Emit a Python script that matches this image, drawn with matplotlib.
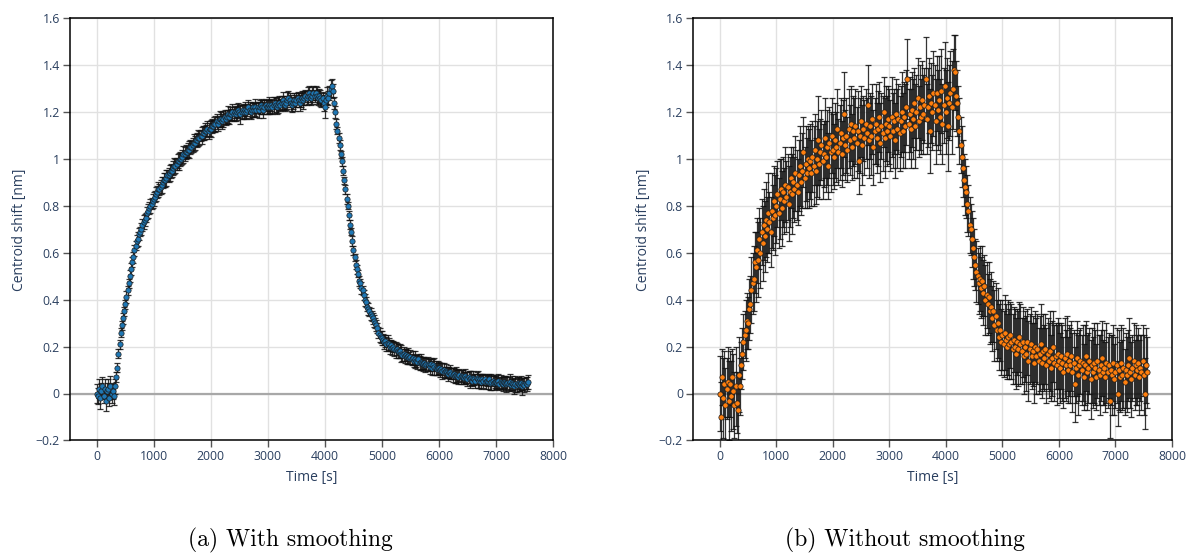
import numpy as np
import matplotlib
matplotlib.use("Agg")
import matplotlib.pyplot as plt
from matplotlib.ticker import FuncFormatter

# ---------------- data ----------------
time_s = np.arange(0, 7561, 20)

shift_smoothed = [
    0.00, -0.01, 0.02, -0.02, 0.01, 0.03, -0.01, 0.02, -0.03, 0.01,
    0.02, -0.02, 0.03, 0.00, 0.01, -0.01, 0.03, 0.07, 0.11, 0.17,
    0.21, 0.26, 0.29, 0.32, 0.35, 0.38, 0.41, 0.44, 0.47, 0.50,
    0.53, 0.56, 0.58, 0.61, 0.63, 0.65, 0.66, 0.68, 0.69, 0.70,
    0.72, 0.73, 0.74, 0.75, 0.77, 0.78, 0.79, 0.80, 0.81, 0.82,
    0.83, 0.84, 0.85, 0.86, 0.87, 0.87, 0.88, 0.89, 0.90, 0.91,
    0.91, 0.92, 0.93, 0.93, 0.94, 0.95, 0.95, 0.96, 0.97, 0.97,
    0.98, 0.99, 0.99, 1.00, 1.00, 1.01, 1.02, 1.02, 1.03, 1.03,
    1.04, 1.04, 1.05, 1.05, 1.06, 1.07, 1.07, 1.08, 1.08, 1.09,
    1.09, 1.10, 1.10, 1.11, 1.11, 1.12, 1.12, 1.13, 1.12, 1.13,
    1.13, 1.14, 1.14, 1.15, 1.15, 1.16, 1.15, 1.16, 1.17, 1.17,
    1.16, 1.17, 1.18, 1.17, 1.18, 1.19, 1.18, 1.19, 1.19, 1.20,
    1.19, 1.20, 1.19, 1.20, 1.21, 1.20, 1.19, 1.20, 1.21, 1.20,
    1.21, 1.20, 1.21, 1.22, 1.21, 1.20, 1.21, 1.22, 1.21, 1.22,
    1.21, 1.22, 1.21, 1.22, 1.23, 1.22, 1.21, 1.22, 1.23, 1.22,
    1.22, 1.23, 1.22, 1.23, 1.22, 1.23, 1.24, 1.23, 1.22, 1.23,
    1.24, 1.23, 1.24, 1.25, 1.24, 1.23, 1.24, 1.25, 1.26, 1.25,
    1.24, 1.23, 1.24, 1.25, 1.24, 1.25, 1.26, 1.25, 1.24, 1.25,
    1.26, 1.25, 1.26, 1.27, 1.26, 1.27, 1.28, 1.27, 1.26, 1.27,
    1.28, 1.27, 1.28, 1.27, 1.26, 1.27, 1.26, 1.25, 1.26, 1.24,
    1.22, 1.25, 1.27, 1.26, 1.28, 1.30, 1.31, 1.29, 1.24, 1.20,
    1.15, 1.12, 1.09, 1.06, 1.02, 0.99, 0.95, 0.91, 0.87, 0.83,
    0.80, 0.76, 0.72, 0.69, 0.65, 0.61, 0.58, 0.55, 0.53, 0.51,
    0.48, 0.47, 0.45, 0.44, 0.42, 0.40, 0.39, 0.37, 0.36, 0.35,
    0.34, 0.33, 0.32, 0.31, 0.30, 0.29, 0.28, 0.26, 0.25, 0.24,
    0.235, 0.23, 0.22, 0.225, 0.21, 0.215, 0.21, 0.20, 0.205, 0.195,
    0.20, 0.19, 0.185, 0.19, 0.18, 0.175, 0.18, 0.17, 0.165, 0.17,
    0.16, 0.165, 0.155, 0.16, 0.15, 0.155, 0.145, 0.15, 0.14, 0.145,
    0.14, 0.135, 0.145, 0.13, 0.135, 0.13, 0.125, 0.13, 0.12, 0.125,
    0.125, 0.12, 0.115, 0.125, 0.11, 0.12, 0.115, 0.11, 0.105, 0.11,
    0.11, 0.10, 0.105, 0.095, 0.10, 0.09, 0.095, 0.09, 0.085, 0.09,
    0.09, 0.085, 0.08, 0.085, 0.075, 0.08, 0.075, 0.07, 0.08, 0.07,
    0.075, 0.07, 0.065, 0.075, 0.065, 0.06, 0.07, 0.06, 0.065, 0.055,
    0.065, 0.06, 0.055, 0.065, 0.06, 0.055, 0.06, 0.05, 0.06, 0.055,
    0.06, 0.05, 0.055, 0.05, 0.06, 0.045, 0.05, 0.055, 0.045, 0.05,
    0.05, 0.045, 0.055, 0.04, 0.05, 0.045, 0.04, 0.05, 0.045, 0.04,
    0.045, 0.04, 0.05, 0.035, 0.045, 0.04, 0.03, 0.04, 0.035, 0.045,
    0.04, 0.035, 0.045, 0.03, 0.04, 0.035, 0.045, 0.04, 0.05,
]

err_smoothed = [
    0.040, 0.035, 0.040, 0.045, 0.035, 0.040, 0.030, 0.040, 0.045, 0.035,
    0.040, 0.035, 0.045, 0.040, 0.035, 0.040, 0.030, 0.020, 0.020, 0.020,
    0.020, 0.020, 0.020, 0.025, 0.020, 0.020, 0.025, 0.020, 0.020, 0.025,
    0.025, 0.020, 0.025, 0.025, 0.020, 0.025, 0.030, 0.025, 0.020, 0.025,
    0.025, 0.030, 0.025, 0.020, 0.025, 0.030, 0.025, 0.030, 0.025, 0.030,
    0.030, 0.025, 0.030, 0.025, 0.030, 0.025, 0.030, 0.035, 0.025, 0.030,
    0.030, 0.035, 0.025, 0.030, 0.035, 0.030, 0.025, 0.030, 0.035, 0.030,
    0.025, 0.030, 0.035, 0.030, 0.025, 0.030, 0.035, 0.030, 0.030, 0.025,
    0.030, 0.035, 0.030, 0.025, 0.030, 0.035, 0.030, 0.025, 0.030, 0.035,
    0.030, 0.025, 0.035, 0.030, 0.030, 0.035, 0.025, 0.030, 0.035, 0.030,
    0.035, 0.030, 0.025, 0.030, 0.035, 0.030, 0.030, 0.025, 0.035, 0.030,
    0.030, 0.035, 0.030, 0.025, 0.030, 0.035, 0.030, 0.030, 0.025, 0.035,
    0.030, 0.025, 0.030, 0.035, 0.030, 0.025, 0.040, 0.030, 0.025, 0.030,
    0.035, 0.030, 0.025, 0.030, 0.035, 0.030, 0.030, 0.025, 0.030, 0.035,
    0.030, 0.025, 0.035, 0.030, 0.025, 0.030, 0.035, 0.030, 0.025, 0.030,
    0.030, 0.035, 0.030, 0.025, 0.030, 0.035, 0.025, 0.030, 0.030, 0.035,
    0.030, 0.025, 0.030, 0.035, 0.030, 0.025, 0.030, 0.035, 0.030, 0.030,
    0.035, 0.030, 0.025, 0.030, 0.035, 0.030, 0.025, 0.030, 0.035, 0.030,
    0.030, 0.035, 0.030, 0.025, 0.030, 0.035, 0.030, 0.025, 0.030, 0.035,
    0.030, 0.025, 0.030, 0.035, 0.030, 0.030, 0.035, 0.030, 0.025, 0.035,
    0.045, 0.030, 0.035, 0.030, 0.030, 0.035, 0.030, 0.030, 0.025, 0.025,
    0.020, 0.015, 0.020, 0.020, 0.015, 0.020, 0.020, 0.015, 0.020, 0.020,
    0.015, 0.020, 0.020, 0.015, 0.020, 0.020, 0.015, 0.020, 0.020, 0.015,
    0.020, 0.020, 0.025, 0.020, 0.020, 0.025, 0.020, 0.020, 0.025, 0.020,
    0.025, 0.020, 0.025, 0.025, 0.020, 0.025, 0.020, 0.025, 0.030, 0.025,
    0.030, 0.025, 0.030, 0.025, 0.030, 0.035, 0.025, 0.030, 0.025, 0.030,
    0.025, 0.030, 0.035, 0.025, 0.030, 0.025, 0.030, 0.035, 0.025, 0.030,
    0.030, 0.025, 0.030, 0.035, 0.025, 0.030, 0.025, 0.030, 0.025, 0.035,
    0.025, 0.030, 0.025, 0.030, 0.035, 0.025, 0.030, 0.025, 0.030, 0.025,
    0.030, 0.025, 0.030, 0.025, 0.030, 0.025, 0.035, 0.030, 0.025, 0.030,
    0.025, 0.030, 0.025, 0.035, 0.030, 0.025, 0.030, 0.025, 0.030, 0.025,
    0.030, 0.025, 0.030, 0.025, 0.030, 0.035, 0.025, 0.030, 0.025, 0.030,
    0.025, 0.030, 0.025, 0.030, 0.025, 0.030, 0.025, 0.035, 0.030, 0.025,
    0.030, 0.025, 0.030, 0.025, 0.035, 0.030, 0.025, 0.030, 0.025, 0.030,
    0.025, 0.030, 0.025, 0.030, 0.025, 0.030, 0.035, 0.025, 0.030, 0.025,
    0.030, 0.025, 0.030, 0.025, 0.030, 0.025, 0.030, 0.025, 0.030, 0.035,
    0.025, 0.030, 0.035, 0.025, 0.030, 0.025, 0.030, 0.035, 0.030, 0.025,
    0.030, 0.025, 0.030, 0.035, 0.025, 0.030, 0.025, 0.030, 0.030,
]

shift_raw = [
    0.00, -0.10, 0.07, -0.02, 0.04, -0.05, 0.02, 0.05, -0.03, 0.04,
    -0.01, 0.07, 0.01, -0.05, 0.03, -0.04, -0.07, 0.08, 0.03, 0.12,
    0.17, 0.22, 0.25, 0.27, 0.31, 0.30, 0.36, 0.38, 0.44, 0.47,
    0.49, 0.56, 0.54, 0.61, 0.57, 0.66, 0.60, 0.69, 0.64, 0.72,
    0.67, 0.74, 0.70, 0.77, 0.73, 0.69, 0.78, 0.75, 0.82, 0.76,
    0.80, 0.85, 0.77, 0.83, 0.87, 0.79, 0.86, 0.82, 0.89, 0.84,
    0.88, 0.81, 0.86, 0.92, 0.85, 0.90, 0.87, 0.94, 0.89, 0.86,
    0.93, 0.97, 0.90, 0.95, 1.03, 0.92, 0.98, 0.94, 1.00, 0.96,
    0.99, 0.94, 1.01, 0.97, 1.04, 0.95, 1.00, 1.08, 0.98, 1.03,
    1.06, 0.99, 1.02, 1.09, 1.01, 1.05, 0.97, 1.07, 1.03, 1.10,
    1.04, 1.01, 1.08, 1.05, 1.13, 1.03, 1.07, 1.11, 1.02, 1.09,
    1.19, 1.06, 1.10, 1.04, 1.13, 1.08, 1.15, 1.05, 1.12, 1.09,
    1.14, 1.07, 1.12, 0.99, 1.10, 1.16, 1.06, 1.13, 1.09, 1.15,
    1.11, 1.23, 1.08, 1.14, 1.10, 1.17, 1.05, 1.12, 1.15, 1.09,
    1.13, 1.18, 1.07, 1.14, 1.11, 1.20, 1.09, 1.15, 1.12, 1.17,
    1.14, 1.10, 1.18, 1.12, 1.16, 1.08, 1.19, 1.13, 1.17, 1.11,
    1.16, 1.20, 1.12, 1.18, 1.14, 1.22, 1.34, 1.15, 1.19, 1.13,
    1.21, 1.17, 1.24, 1.14, 1.20, 1.26, 1.16, 1.22, 1.18, 1.25,
    1.19, 1.23, 1.34, 1.17, 1.22, 1.27, 1.12, 1.24, 1.20, 1.28,
    1.23, 1.16, 1.28, 1.21, 1.25, 1.18, 1.29, 1.15, 1.23, 1.31,
    1.20, 1.26, 1.14, 1.24, 1.28, 1.22, 1.30, 1.38, 1.37, 1.27,
    1.24, 1.18, 1.12, 1.06, 1.01, 0.96, 0.91, 0.88, 0.86, 0.81,
    0.78, 0.72, 0.70, 0.66, 0.62, 0.58, 0.55, 0.52, 0.50, 0.47,
    0.49, 0.45, 0.48, 0.43, 0.46, 0.40, 0.42, 0.38, 0.41, 0.35,
    0.37, 0.32, 0.35, 0.29, 0.33, 0.27, 0.30, 0.24, 0.27, 0.22,
    0.25, 0.21, 0.26, 0.23, 0.20, 0.24, 0.21, 0.25, 0.22, 0.19,
    0.23, 0.20, 0.17, 0.22, 0.19, 0.24, 0.21, 0.18, 0.22, 0.16,
    0.20, 0.17, 0.22, 0.14, 0.19, 0.21, 0.16, 0.18, 0.13, 0.20,
    0.16, 0.19, 0.14, 0.17, 0.21, 0.13, 0.18, 0.15, 0.19, 0.12,
    0.17, 0.14, 0.18, 0.11, 0.15, 0.20, 0.13, 0.16, 0.12, 0.17,
    0.14, 0.11, 0.16, 0.13, 0.09, 0.15, 0.12, 0.17, 0.10, 0.14,
    0.12, 0.16, 0.09, 0.13, 0.04, 0.11, 0.15, 0.08, 0.12, 0.14,
    0.10, 0.13, 0.07, 0.12, 0.16, 0.09, 0.11, 0.14, 0.06, 0.12,
    0.09, 0.13, 0.11, 0.07, 0.14, 0.10, 0.08, 0.12, 0.15, 0.09,
    0.11, 0.07, 0.13, 0.09, 0.12, -0.03, 0.10, 0.08, 0.13, 0.06,
    0.09, 0.12, 0.00, 0.10, 0.07, 0.13, 0.08, 0.11, 0.05, 0.10,
    0.08, 0.12, 0.15, 0.09, 0.06, 0.11, 0.14, 0.08, 0.12, 0.10,
    0.13, 0.07, 0.11, 0.09, 0.14, 0.08, 0.00, 0.12, 0.09,
]

err_raw = [
    0.16, 0.15, 0.12, 0.17, 0.14, 0.16, 0.13, 0.15, 0.17, 0.14,
    0.15, 0.12, 0.16, 0.14, 0.17, 0.13, 0.15, 0.16, 0.12, 0.10,
    0.11, 0.12, 0.10, 0.13, 0.12, 0.11, 0.13, 0.12, 0.14, 0.13,
    0.14, 0.13, 0.15, 0.14, 0.16, 0.13, 0.15, 0.14, 0.16, 0.15,
    0.15, 0.16, 0.14, 0.17, 0.13, 0.15, 0.16, 0.14, 0.15, 0.17,
    0.16, 0.14, 0.15, 0.17, 0.13, 0.16, 0.15, 0.14, 0.16, 0.15,
    0.14, 0.16, 0.15, 0.13, 0.17, 0.15, 0.14, 0.16, 0.15, 0.14,
    0.15, 0.17, 0.14, 0.16, 0.15, 0.13, 0.16, 0.15, 0.14, 0.17,
    0.16, 0.14, 0.15, 0.17, 0.15, 0.14, 0.16, 0.19, 0.15, 0.14,
    0.15, 0.16, 0.14, 0.17, 0.15, 0.16, 0.14, 0.15, 0.17, 0.16,
    0.15, 0.14, 0.16, 0.15, 0.17, 0.14, 0.16, 0.15, 0.14, 0.16,
    0.18, 0.15, 0.16, 0.14, 0.17, 0.15, 0.16, 0.14, 0.15, 0.17,
    0.16, 0.15, 0.17, 0.14, 0.16, 0.15, 0.17, 0.14, 0.16, 0.15,
    0.15, 0.17, 0.16, 0.14, 0.17, 0.15, 0.16, 0.14, 0.17, 0.15,
    0.16, 0.15, 0.17, 0.14, 0.16, 0.15, 0.17, 0.16, 0.15, 0.14,
    0.16, 0.15, 0.17, 0.16, 0.14, 0.16, 0.15, 0.17, 0.15, 0.16,
    0.15, 0.17, 0.16, 0.15, 0.18, 0.16, 0.17, 0.15, 0.16, 0.17,
    0.16, 0.17, 0.15, 0.18, 0.16, 0.17, 0.15, 0.18, 0.16, 0.17,
    0.17, 0.16, 0.18, 0.15, 0.17, 0.16, 0.18, 0.17, 0.16, 0.18,
    0.17, 0.18, 0.16, 0.17, 0.19, 0.16, 0.18, 0.17, 0.16, 0.19,
    0.18, 0.17, 0.19, 0.16, 0.18, 0.20, 0.17, 0.15, 0.16, 0.15,
    0.14, 0.13, 0.14, 0.12, 0.13, 0.12, 0.11, 0.12, 0.11, 0.12,
    0.11, 0.12, 0.11, 0.12, 0.13, 0.12, 0.11, 0.13, 0.12, 0.13,
    0.14, 0.13, 0.15, 0.14, 0.13, 0.15, 0.14, 0.13, 0.15, 0.14,
    0.15, 0.14, 0.13, 0.15, 0.14, 0.13, 0.15, 0.14, 0.13, 0.14,
    0.15, 0.14, 0.16, 0.15, 0.14, 0.16, 0.15, 0.14, 0.16, 0.15,
    0.14, 0.16, 0.15, 0.14, 0.16, 0.15, 0.17, 0.14, 0.15, 0.16,
    0.15, 0.16, 0.14, 0.17, 0.15, 0.16, 0.14, 0.15, 0.17, 0.15,
    0.16, 0.15, 0.14, 0.16, 0.17, 0.15, 0.16, 0.14, 0.15, 0.16,
    0.15, 0.16, 0.17, 0.14, 0.16, 0.15, 0.16, 0.14, 0.17, 0.15,
    0.16, 0.15, 0.14, 0.16, 0.15, 0.17, 0.15, 0.16, 0.14, 0.15,
    0.16, 0.15, 0.17, 0.14, 0.16, 0.15, 0.16, 0.17, 0.15, 0.14,
    0.15, 0.16, 0.14, 0.17, 0.15, 0.16, 0.15, 0.14, 0.17, 0.16,
    0.15, 0.17, 0.16, 0.14, 0.16, 0.15, 0.17, 0.15, 0.16, 0.14,
    0.16, 0.15, 0.17, 0.15, 0.14, 0.16, 0.15, 0.17, 0.16, 0.15,
    0.15, 0.16, 0.14, 0.17, 0.15, 0.16, 0.15, 0.17, 0.14, 0.16,
    0.16, 0.15, 0.17, 0.15, 0.16, 0.14, 0.16, 0.15, 0.17, 0.15,
    0.15, 0.16, 0.14, 0.16, 0.15, 0.17, 0.15, 0.16, 0.15,
]

panels = [
    dict(y=shift_smoothed, err=err_smoothed, color="#1f77b4",
         caption="(a) With smoothing"),
    dict(y=shift_raw, err=err_raw, color="#ff7f0e",
         caption="(b) Without smoothing"),
]

y_ticks = [-0.2, 0, 0.2, 0.4, 0.6, 0.8, 1.0, 1.2, 1.4, 1.6]
x_ticks = [0, 1000, 2000, 3000, 4000, 5000, 6000, 7000, 8000]

# ---------------- style ----------------
W, H = 1187, 558
DPI = 100
TEXT = "#2a3f5f"
GRID = "#e1e1e1"
plt.rcParams["font.family"] = ["Open Sans", "DejaVu Sans"]

fig = plt.figure(figsize=(W / DPI, H / DPI), dpi=DPI)
fig.patch.set_facecolor("white")

axes_px = [(69.5, 553.0), (692.7, 1172.0)]
top_px, bot_px = 18.3, 440.4
caption_cx = [290, 905]


def fmt(v, _):
    s = "%g" % round(v, 6)
    return s.replace("-", "\u2212")


for (x0, x1), p, cx in zip(axes_px, panels, caption_cx):
    ax = fig.add_axes([x0 / W, (H - bot_px) / H, (x1 - x0) / W, (bot_px - top_px) / H])
    y = np.asarray(p["y"], dtype=float)
    e = np.asarray(p["err"], dtype=float)
    n = min(len(time_s), len(y), len(e))
    t = time_s[:n]
    y = y[:n]
    e = e[:n]

    ax.set_xlim(-478, 8000)
    ax.set_ylim(-0.2, 1.6)
    ax.set_xticks(x_ticks)
    ax.set_yticks(y_ticks)
    ax.yaxis.set_major_formatter(FuncFormatter(fmt))
    ax.xaxis.set_major_formatter(FuncFormatter(fmt))
    ax.grid(True, color=GRID, linewidth=1.0, zorder=0)
    ax.set_axisbelow(True)
    ax.axhline(0, color="#a8a8a8", linewidth=1.6, zorder=1)

    for sp in ax.spines.values():
        sp.set_color("black")
        sp.set_linewidth(1.1)
        sp.set_zorder(5)

    ax.tick_params(axis="both", which="major", direction="out", length=5,
                   width=1, color="#555555", labelsize=8.8, labelcolor=TEXT, pad=2)
    ax.tick_params(axis="x", top=False)
    ax.tick_params(axis="y", right=False)

    ax.errorbar(t, y, yerr=e, fmt="none", ecolor="#111111", elinewidth=0.9,
                capsize=2.0, capthick=0.9, alpha=0.85, zorder=2)
    ax.plot(t, y, linestyle="none", marker="o", markersize=3.8,
            markerfacecolor=p["color"], markeredgecolor="#1a1a1a",
            markeredgewidth=0.5, zorder=3)

    ax.set_xlabel("Time [s]", fontsize=10, color=TEXT, labelpad=5)
    ax.set_ylabel("Centroid shift [nm]", fontsize=10, color=TEXT, labelpad=6)

    fig.text(cx / W, (H - 540) / H, p["caption"], fontsize=17,
             family="cmr10", ha="center", va="center", color="black")

fig.savefig("out.png", dpi=DPI, facecolor="white")
